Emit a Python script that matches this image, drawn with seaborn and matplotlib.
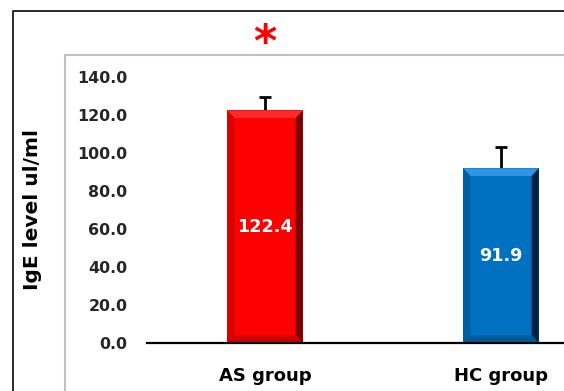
import matplotlib
matplotlib.use("Agg")
import matplotlib.pyplot as plt
from matplotlib.lines import Line2D
from matplotlib.patches import Polygon
import matplotlib.colors as mcolors
import numpy as np
import seaborn as sns
import pandas as pd

groups = ["AS group", "HC group"]
values = [122.4, 91.9]
errors = [7.0, 11.3]
colors = ["#FF0000", "#0070C0"]
top_colors = ["#FF2A2A", "#2E95E6"]
side_colors = ["#7A0000", "#00213F"]
yticks = [0, 20, 40, 60, 80, 100, 120, 140]
ylabel = "IgE level ul/ml"

sns.set_theme(style="white")
plt.rcParams["font.family"] = ["DejaVu Sans"]

fig = plt.figure(figsize=(5.64, 3.91), dpi=100)
AX_L, AX_B, AX_W, AX_H = 147, 48, 472, 266
ax = fig.add_axes([AX_L / 564, AX_B / 391, AX_W / 564, AX_H / 391])

df = pd.DataFrame({"group": groups, "value": values})
sns.barplot(data=df, x="group", y="value", hue="group", palette=colors,
            width=0.32, errorbar=None, legend=False, ax=ax, saturation=1,
            linewidth=0)

ax.set_xlim(-0.5, 1.5)
ax.set_ylim(0, 140)
ax.set_yticks(yticks)
ax.set_yticklabels([f"{t:.1f}" for t in yticks], fontsize=11.4,
                   fontweight="bold", color="#262626")
ax.set_xticks(range(len(groups)))
ax.set_xticklabels(groups, fontsize=13, fontweight="bold", color="black")
ax.tick_params(axis="y", length=0, pad=14)
ax.tick_params(axis="x", length=0, pad=17)
ax.set_xlabel("")
for s in ["top", "right", "left"]:
    ax.spines[s].set_visible(False)
ax.spines["bottom"].set_color("black")
ax.spines["bottom"].set_linewidth(1.6)
ax.spines["bottom"].set_zorder(5)

# bevel effect and labels, derived from the bar patches
bars = [p for p in ax.patches]
for i, p in enumerate(bars):
    p.set_zorder(3)
    x0, w, h = p.get_x(), p.get_width(), p.get_height()
    dx, dy = 0.03, 4.0
    polys = [
        ([(x0, h), (x0 + w, h), (x0 + w - dx, h - dy), (x0 + dx, h - dy)], top_colors[i]),
        ([(x0 + w, h), (x0 + w, 0), (x0 + w - dx, dy), (x0 + w - dx, h - dy)], side_colors[i]),
        ([(x0, h), (x0 + dx, h - dy), (x0 + dx, dy), (x0, 0)],
         mcolors.to_hex([c * 0.85 for c in mcolors.to_rgb(colors[i])])),
        ([(x0, 0), (x0 + w, 0), (x0 + w - dx, dy), (x0 + dx, dy)],
         mcolors.to_hex([c * 0.8 for c in mcolors.to_rgb(colors[i])])),
    ]
    for pts, c in polys:
        ax.add_patch(Polygon(pts, closed=True, facecolor=c, edgecolor="none", zorder=3.5))
    ax.text(x0 + w / 2, h / 2, f"{values[i]:.1f}", ha="center", va="center",
            color="white", fontsize=12.7, fontweight="bold", zorder=6)

centers = [p.get_x() + p.get_width() / 2 for p in bars]
eb = ax.errorbar(centers, values, yerr=[[0] * len(errors), errors], fmt="none",
                 ecolor="black", elinewidth=2, capsize=4, capthick=2, zorder=2)
for cl in eb[1]:
    if np.allclose(cl.get_ydata(), values):
        cl.set_visible(False)

ax.set_ylabel(ylabel, fontsize=14.5, fontweight="bold", color="black")
ax.yaxis.set_label_coords((42 - AX_L) / AX_W, (391 - 210 - AX_B) / AX_H)

# significance star
fig.text(265 / 564, 1 - 44 / 391, "*", color="red", fontsize=32,
         fontweight="bold", ha="center", va="center")

# frames
fig.add_artist(Line2D([13 / 564, 13 / 564, 1.0], [0, 1 - 11 / 391, 1 - 11 / 391],
                      transform=fig.transFigure, color="#1a1a1a", lw=1.3))
fig.add_artist(Line2D([65 / 564, 65 / 564, 1.0], [0, 1 - 55 / 391, 1 - 55 / 391],
                      transform=fig.transFigure, color="#BFBFBF", lw=1.5))

fig.savefig("out.png", dpi=100)
